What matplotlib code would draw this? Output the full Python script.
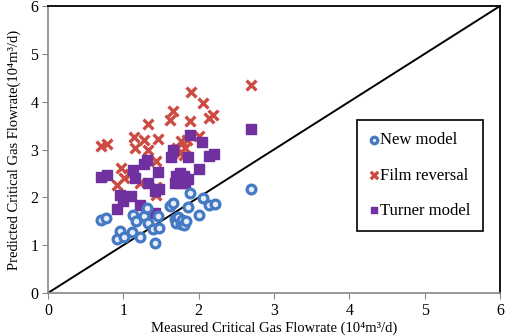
import numpy as np
import matplotlib
matplotlib.use('Agg')
import matplotlib.pyplot as plt

plt.rcParams['font.family'] = ['Liberation Serif', 'DejaVu Serif']

# data: (measured, predicted) in 10^4 m3/d
new_x = [0.70, 0.77, 0.92, 0.96, 1.01, 1.11, 1.13, 1.17, 1.22, 1.27, 1.32, 1.33, 1.40, 1.42, 1.46, 1.48,
         1.62, 1.66, 1.68, 1.70, 1.73, 1.76, 1.78, 1.81, 1.83, 1.86, 1.89, 2.01, 2.06, 2.14, 2.22, 2.69]
new_y = [1.53, 1.56, 1.12, 1.30, 1.18, 1.28, 1.63, 1.51, 1.17, 1.60, 1.77, 1.46, 1.33, 1.05, 1.61, 1.35,
         1.81, 1.89, 1.55, 1.47, 1.58, 1.45, 1.52, 1.42, 1.50, 1.79, 2.10, 1.63, 1.98, 1.84, 1.86, 2.17]

film_x = [0.71, 0.78, 0.91, 0.97, 1.01, 1.09, 1.14, 1.16, 1.22, 1.27, 1.33, 1.33, 1.43, 1.44, 1.44, 1.46,
          1.62, 1.66, 1.71, 1.75, 1.76, 1.80, 1.82, 1.84, 1.88, 1.90, 2.01, 2.06, 2.14, 2.19, 2.70]
film_y = [3.08, 3.12, 2.26, 2.61, 2.40, 2.49, 3.26, 3.03, 2.31, 3.20, 3.53, 2.98, 2.05, 2.75, 2.22, 3.21,
          3.62, 3.81, 3.03, 2.92, 3.17, 2.89, 3.03, 3.20, 3.60, 4.20, 3.28, 3.97, 3.65, 3.72, 4.35]

turner_x = [0.71, 0.78, 0.92, 0.96, 1.00, 1.10, 1.13, 1.16, 1.22, 1.27, 1.32, 1.33, 1.42, 1.42, 1.46, 1.48,
            1.63, 1.66, 1.68, 1.70, 1.75, 1.75, 1.80, 1.82, 1.86, 1.86, 1.89, 2.01, 2.05, 2.14, 2.20, 2.69]
turner_y = [2.42, 2.46, 1.75, 2.05, 1.93, 2.03, 2.57, 2.40, 1.84, 2.70, 2.78, 2.31, 2.14, 1.67, 2.52, 2.17,
            2.84, 2.98, 2.30, 2.45, 2.50, 2.30, 2.45, 2.30, 2.38, 2.84, 3.31, 2.59, 3.15, 2.87, 2.91, 3.42]

fig = plt.figure(figsize=(5.05, 3.36), dpi=100)
ax = fig.add_axes([0.095, 0.128, 0.895, 0.854])

ax.plot([0, 6], [0, 6], color='black', lw=1.4, zorder=1)

ax.scatter(new_x, new_y, s=40, marker='o', facecolor='#e4ecf7', edgecolor='#4479c4',
           linewidths=2.3, label='New model', zorder=3)
ax.scatter(film_x, film_y, s=50, marker='x', color='#cc4b43', linewidths=2.4,
           label='Film reversal', zorder=2)
ax.scatter(turner_x, turner_y, s=42, marker='s', color='#7030a0', label='Turner model', zorder=2)

ax.set_xlim(0, 6)
ax.set_ylim(0, 6)
ax.set_xticks(range(7))
ax.set_yticks(range(7))
ax.tick_params(direction='out', length=4, color='#888888', labelsize=11.5, pad=3)

for side in ['left', 'bottom']:
    ax.spines[side].set_color('#888888')
    ax.spines[side].set_linewidth(1.2)
for side in ['top', 'right']:
    ax.spines[side].set_color('black')
    ax.spines[side].set_linewidth(1.3)

ax.set_xlabel('Measured Critical Gas Flowrate (10\u2074m\u00b3/d)', fontsize=10.5, labelpad=2)
ax.set_ylabel('Predicted Critical Gas Flowrate(10\u2074m\u00b3/d)', fontsize=10.5, labelpad=7)

leg = ax.legend(loc='upper left', bbox_to_anchor=(0.684, 0.603), borderaxespad=0,
                fontsize=12, frameon=True, fancybox=False, edgecolor='black', framealpha=1,
                labelspacing=1.15, handletextpad=0.15, handlelength=0.5,
                borderpad=0.75, markerscale=0.75)
leg.get_frame().set_linewidth(1.2)

fig.savefig('out.png', dpi=100)
